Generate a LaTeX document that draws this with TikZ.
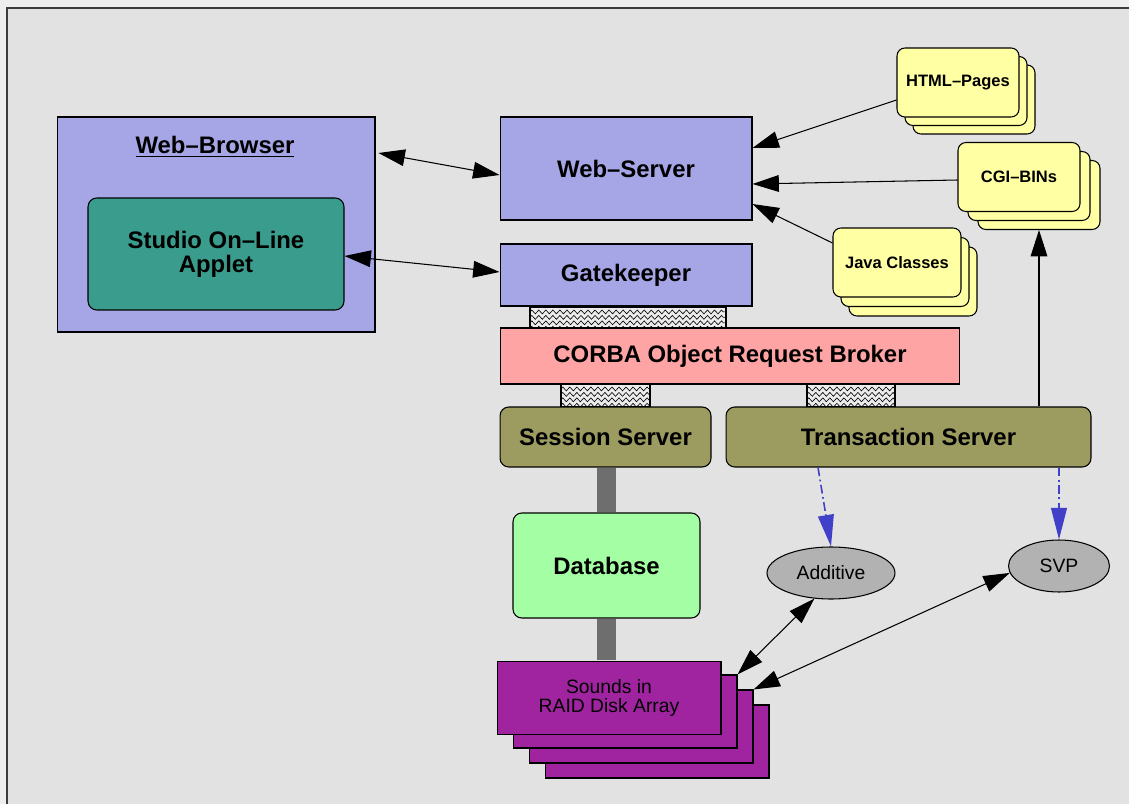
\documentclass[tikz,border=0pt]{standalone}
\usepackage{fontspec}
\setmainfont{Liberation Sans}
\usetikzlibrary{arrows.meta,shapes.geometric,decorations.pathmorphing}

\definecolor{outergray}{RGB}{238,238,238}
\definecolor{bggray}{RGB}{226,226,226}
\definecolor{framegray}{RGB}{60,60,60}
\definecolor{webblue}{RGB}{166,166,230}
\definecolor{appletteal}{RGB}{58,156,140}
\definecolor{corbared}{RGB}{255,164,164}
\definecolor{serverolive}{RGB}{156,156,96}
\definecolor{dbgreen}{RGB}{164,255,164}
\definecolor{raidpurple}{RGB}{160,36,160}
\definecolor{pageyellow}{RGB}{255,255,164}
\definecolor{ovalgray}{RGB}{178,178,178}
\definecolor{hatchgray}{RGB}{236,236,236}
\definecolor{bargray}{RGB}{110,110,110}
\definecolor{callblue}{RGB}{64,64,200}

\begin{document}
\begin{tikzpicture}[x=0.02cm,y=-0.02cm,
	>={Triangle[length=15pt,width=9.5pt]},
	box/.style={draw=black,line width=0.6pt,inner sep=0pt,align=center,font=\bfseries\fontsize{13.6}{13.8}\selectfont},
	rbox/.style={box,rounded corners=5pt},
	page/.style={draw=black,line width=0.6pt,fill=pageyellow,rounded corners=4.5pt,minimum width=2.44cm,minimum height=1.38cm,inner sep=0pt,font=\bfseries\fontsize{9.4}{10}\selectfont},
	disk/.style={draw=black,line width=0.6pt,fill=raidpurple,minimum width=4.48cm,minimum height=1.46cm,inner sep=0pt,align=center,font=\fontsize{11}{10.8}\selectfont},
	oval/.style={ellipse,draw=black,line width=0.6pt,fill=ovalgray,minimum height=1.04cm,inner sep=0pt,font=\fontsize{11}{12}\selectfont},
	hatch/.style={draw=black,line width=0.6pt,fill=hatchgray,inner sep=0pt,path picture={
		\foreach \d in {2.8pt,5.9pt,9pt,12.1pt}
			\draw[black,line width=0.35pt,decorate,decoration={zigzag,segment length=4pt,amplitude=1.1pt}]
				([yshift=-\d]path picture bounding box.north west) -- ([yshift=-\d]path picture bounding box.north east);}},
	link/.style={<->,line width=0.6pt},
	feed/.style={->,line width=0.6pt},
	call/.style={->,draw=callblue,line width=0.9pt,dash pattern=on 5pt off 2pt on 1pt off 2pt,>={Triangle[length=18pt,width=9pt,fill=callblue]}},
	dbbar/.style={draw=bargray,line width=10.8pt}]

	\useasboundingbox (0,0) rectangle (1129,804);
	\fill[outergray] (0,0) rectangle (1129,804);
	\fill[bggray] (7,8) rectangle (1129,804);
	\draw[framegray,line width=1.2pt] (7,804) -- (7,8) -- (1129,8);

	\node[box,fill=webblue,minimum width=6.36cm,minimum height=4.3cm] (browser) at (216,224.5) {};
	\node[font=\bfseries\fontsize{13.6}{13.8}\selectfont] (browserlbl) at (215,147) {\underline{Web--Browser}};
	\node[rbox,fill=appletteal,minimum width=5.12cm,minimum height=2.24cm] (applet) at (216,254) {Studio On--Line\\Applet};

	\node[box,fill=webblue,minimum width=5.04cm,minimum height=2.06cm] (webserver) at (626,168.5) {Web--Server};
	\node[box,fill=webblue,minimum width=5.04cm,minimum height=1.24cm] (gatekeeper) at (626,275) {Gatekeeper};
	\node[hatch,minimum width=3.92cm,minimum height=0.42cm] (gkhatch) at (628,317.5) {};
	\node[box,fill=corbared,minimum width=9.2cm,minimum height=1.12cm] (corba) at (730,356) {CORBA Object Request Broker};
	\node[hatch,minimum width=1.78cm,minimum height=0.46cm] (sshatch) at (605.5,395.5) {};
	\node[hatch,minimum width=1.76cm,minimum height=0.46cm] (tshatch) at (851,395.5) {};
	\node[rbox,fill=serverolive,minimum width=4.22cm,minimum height=1.2cm] (session) at (605.5,437) {Session Server};
	\node[rbox,fill=serverolive,minimum width=7.3cm,minimum height=1.2cm] (transaction) at (908.5,437) {Transaction Server};

	\foreach \i in {3,2,1}
		\node[disk] (raid\i) at (609+16*\i,696.5+15*\i) {};
	\node[rbox,fill=dbgreen,minimum width=3.74cm,minimum height=2.1cm] (database) at (606.5,565.5) {Database};
	\draw[dbbar] (database.north) -- (database.north |- session.south);
	\draw[dbbar] (database.south) -- (database.south |- 0,660);
	\node[disk] (raid) at (609,698) {Sounds in\\RAID Disk Array};

	\foreach \i in {2,1}
		\node[page] (html\i) at (958+8*\i,82.5+8.5*\i) {};
	\node[page] (html) at (958,82.5) {HTML--Pages};
	\foreach \i in {2,1}
		\node[page] (cgi\i) at (1019+10*\i,177+9*\i) {};
	\node[page] (cgi) at (1019,177) {CGI--BINs};
	\foreach \i in {2,1}
		\node[page,minimum width=2.56cm] (java\i) at (897+8*\i,262.5+9.5*\i) {};
	\node[page,minimum width=2.56cm] (java) at (897,262.5) {Java Classes};

	\node[oval,minimum width=2.56cm] (additive) at (831,573) {Additive};
	\node[oval,minimum width=2.02cm] (svp) at (1059,566) {SVP};

	\draw[link] ([shift={(3,-71.5)}]browser.east) -- ([yshift=-6.5*0.02cm]webserver.west);
	\draw[link] ([yshift=-2*0.02cm]applet.east) -- ([yshift=3*0.02cm]gatekeeper.west);
	\draw[feed] ([yshift=-17.5*0.02cm]html.west) -- ([yshift=20.5*0.02cm]webserver.east);
	\draw[feed] ([yshift=-3*0.02cm]cgi.west) -- ([yshift=-15.5*0.02cm]webserver.east);
	\draw[feed] ([yshift=19.5*0.02cm]java.west) -- ([yshift=-35.5*0.02cm]webserver.east);
	\draw[feed] (transaction.north -| cgi2.south) -- (cgi2.south);
	\draw[call] ([xshift=-90.5*0.02cm]transaction.south) -- (additive.north);
	\draw[call] (svp.north |- transaction.south) -- (svp.north);
	\draw[link] (additive.237) -- (raid1.north east);
	\draw[link] (svp.188) -- (raid2.north east);
\end{tikzpicture}
\end{document}
